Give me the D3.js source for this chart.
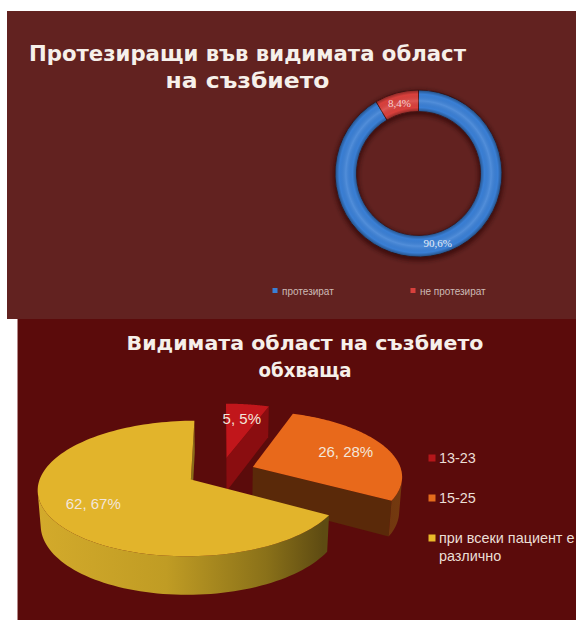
<!DOCTYPE html>
<html><head><meta charset="utf-8">
<script src="https://cdn.jsdelivr.net/npm/d3@7"></script>
<style>html,body{margin:0;padding:0;background:#fff;} svg{display:block}</style>
</head><body>
<svg id="c" width="576" height="620"></svg>
<script>
// ---- data: top chart (doughnut) ----
const donutTitle = ["Протезиращи във видимата област", "на съзбието"];
const donutCategories = ["протезират", "не протезират"];
const donutValues = [90.6, 8.4];
const donutLabels = ["90,6%", "8,4%"];
const donutColors = ["#3a7fd5", "#d9403c"];

// ---- data: bottom chart (3D pie) ----
const pieTitle = ["Видимата област на съзбието", "обхваща"];
const pieCategories = ["13-23", "15-25", "при всеки пациент е различно"];
const pieValues = [5, 26, 62];
const pieLabels = ["5, 5%", "26, 28%", "62, 67%"];
const pieTopColors = ["#c1161b", "#e8691b", "#e2b42b"];
const pieFaceColors = ["#8a0d10", "#5a2909", "#8a6d1a"];
const pieSideColors = ["#7a0b0d", "url(#orSide)", "url(#yeSide)"];
const pieLegendColors = ["#b5161a", "#e46c1c", "#e9ba2a"];

const svg = d3.select("#c");
const defs = svg.append("defs");

// backgrounds
svg.append("rect").attr("width",576).attr("height",620).attr("fill","#ffffff");
svg.append("rect").attr("x",7).attr("y",11).attr("width",569).attr("height",308).attr("fill","#622220");
svg.append("rect").attr("x",17).attr("y",319).attr("width",559).attr("height",301).attr("fill","#5b0b0b");
svg.append("line").attr("x1",17.5).attr("x2",17.5).attr("y1",319).attr("y2",620).attr("stroke","#b48888").attr("stroke-width",1);

const titleFont = "'DejaVu Sans', sans-serif";

// ================= TOP: doughnut =================
const t1 = svg.append("g").attr("font-family",titleFont).attr("font-weight","bold")
  .attr("fill","#f6f0ea").attr("text-anchor","middle").attr("font-size",22);
const t1w = [437, 164];
donutTitle.forEach((s,i)=>{
  t1.append("text").attr("x",247.5).attr("y",[61,88][i]).attr("textLength",t1w[i])
    .attr("lengthAdjust","spacingAndGlyphs").text(s);
});

const dc = {x:418.5, y:173.5}, rOut = 83.5, rIn = 62;
const dg = svg.append("g").attr("transform",`translate(${dc.x},${dc.y})`);
const blur = defs.append("filter").attr("id","blur").attr("x","-20%").attr("y","-20%").attr("width","140%").attr("height","140%");
blur.append("feGaussianBlur").attr("stdDeviation",2);
const bevel = defs.append("radialGradient").attr("id","bevel").attr("gradientUnits","userSpaceOnUse")
  .attr("cx",0).attr("cy",0).attr("r",rOut);
[[rIn/rOut,"#000",0.35],[0.79,"#000",0.0],[0.87,"#fff",0.12],[0.95,"#000",0.0],[1,"#000",0.4]]
  .forEach(s=>bevel.append("stop").attr("offset",s[0]).attr("stop-color",s[1]).attr("stop-opacity",s[2]));

dg.append("circle").attr("r",(rOut+rIn)/2).attr("cy",2).attr("fill","none")
  .attr("stroke","#2a0606").attr("stroke-opacity",0.6).attr("stroke-width",rOut-rIn+4).attr("filter","url(#blur)");

const donutPie = d3.pie().sort(null).value(d=>d);
const dArcs = donutPie(donutValues);
const dArc = d3.arc().innerRadius(rIn).outerRadius(rOut);
dg.selectAll("path.slice").data(dArcs).join("path").attr("class","slice")
  .attr("d",dArc).attr("fill",(d,i)=>donutColors[i]).attr("stroke","#4a1414").attr("stroke-width",0.8);
dg.append("path").attr("d",d3.arc().innerRadius(rIn).outerRadius(rOut)({startAngle:0,endAngle:2*Math.PI}))
  .attr("fill","url(#bevel)");
dg.selectAll("text.lbl").data(dArcs).join("text").attr("class","lbl")
  .attr("x",d=>dArc.centroid(d)[0]).attr("y",d=>dArc.centroid(d)[1]+3.5)
  .attr("text-anchor","middle").attr("font-family","'Liberation Serif', serif").attr("font-size",11)
  .attr("fill",(d,i)=>i===0?"#e4ecf8":"#f6d2d0").text((d,i)=>donutLabels[i]);

// legend top
const lg1 = svg.append("g").attr("font-family","'Liberation Sans', Arial, sans-serif").attr("font-size",10).attr("fill","#cdbab6");
const lgX = d3.scalePoint().domain(donutCategories).range([275,413]);
donutCategories.forEach((c,i)=>{
  lg1.append("rect").attr("x",lgX(c)-2.5).attr("y",288).attr("width",5).attr("height",5).attr("fill",donutColors[i]);
  lg1.append("text").attr("x",lgX(c)+7).attr("y",294.5).text(c);
});

// ================= BOTTOM: 3D pie =================
const t2 = svg.append("g").attr("font-family",titleFont).attr("font-weight","bold")
  .attr("fill","#f6f0ea").attr("text-anchor","middle").attr("font-size",20);
const t2w = [357, 93];
pieTitle.forEach((s,i)=>{
  t2.append("text").attr("x",305).attr("y",[350,377][i]).attr("textLength",t2w[i])
    .attr("lengthAdjust","spacingAndGlyphs").text(s);
});

// gradients for side faces
const ye = defs.append("linearGradient").attr("id","yeSide").attr("gradientUnits","userSpaceOnUse")
  .attr("x1",38).attr("x2",323).attr("y1",0).attr("y2",0);
[[0,"#d3aa2b"],[0.45,"#c09c24"],[0.8,"#8a7119"],[1,"#5e4b12"]].forEach(s=>ye.append("stop").attr("offset",s[0]).attr("stop-color",s[1]));
const os = defs.append("linearGradient").attr("id","orSide").attr("gradientUnits","userSpaceOnUse")
  .attr("x1",250).attr("x2",400).attr("y1",0).attr("y2",0);
[[0,"#4e2107"],[1,"#74390f"]].forEach(s=>os.append("stop").attr("offset",s[0]).attr("stop-color",s[1]));

// projection
const D = 6.9, alpha = 25.7*Math.PI/180, H = 0.26, EXPL = 0.23;
const ca = Math.cos(alpha), sa = Math.sin(alpha);
const SX = 221, SY = 472, SC = 149;
const px = d3.scaleLinear().domain([-1,1]).range([SX-SC,SX+SC]);
const py = d3.scaleLinear().domain([-1,1]).range([SY+SC,SY-SC]);
function proj(p){ const [x,y,z]=p; const v=y*ca+z*sa, dep=D+z*ca-y*sa, k=D/dep; return [px(x*k), py(v*k)]; }
const cam = [0, D*sa, -D*ca];
const line = d3.line();

const pieArcs = d3.pie().sort(null).value(d=>d)(pieValues).map((d,i)=>{
  const mid=(d.startAngle+d.endAngle)/2;
  return {i, a0:d.startAngle, a1:d.endAngle, mid, ox:EXPL*Math.sin(mid), oz:EXPL*Math.cos(mid)};
});
const pg = svg.append("g");
function visible(n,p){ return n[0]*(cam[0]-p[0])+n[1]*(cam[1]-p[1])+n[2]*(cam[2]-p[2])>0; }
function rim(s,t,y){ return [s.ox+Math.sin(t), y, s.oz+Math.cos(t)]; }

pieArcs.slice().sort((a,b)=>b.oz-a.oz).forEach(s=>{
  const apexT=[s.ox,0,s.oz], apexB=[s.ox,-H,s.oz];
  // radial faces
  [[s.a0,-1],[s.a1,1]].forEach(([t,sg])=>{
    const n=[sg*Math.cos(t),0,-sg*Math.sin(t)];
    const m=[s.ox+0.5*Math.sin(t),-H/2,s.oz+0.5*Math.cos(t)];
    if(visible(n,m)){
      const poly=[apexT,rim(s,t,0),rim(s,t,-H),apexB].map(proj);
      pg.append("path").attr("d",line(poly)+"Z").attr("fill",pieFaceColors[s.i]);
    }
  });
  // outer side
  const N=120, runs=[]; let cur=null;
  for(let k=0;k<=N;k++){
    const t=s.a0+(s.a1-s.a0)*k/N;
    const v=visible([Math.sin(t),0,Math.cos(t)], rim(s,t,-H/2));
    if(v){ if(!cur){cur=[];runs.push(cur);} cur.push(t);} else cur=null;
  }
  runs.forEach(r=>{
    if(r.length<2) return;
    const top=r.map(t=>proj(rim(s,t,0))), bot=r.slice().reverse().map(t=>proj(rim(s,t,-H)));
    pg.append("path").attr("d",line(top.concat(bot))+"Z").attr("fill",pieSideColors[s.i]);
  });
  // top face
  const pts=[proj(apexT)];
  for(let k=0;k<=N;k++){ const t=s.a0+(s.a1-s.a0)*k/N; pts.push(proj(rim(s,t,0))); }
  pg.append("path").attr("d",line(pts)+"Z").attr("fill",pieTopColors[s.i]);
});

// data labels
const LR = 0.7;
pieArcs.forEach(s=>{
  const p=proj([s.ox+LR*Math.sin(s.mid),0,s.oz+LR*Math.cos(s.mid)]);
  pg.append("text").attr("x",p[0]).attr("y",p[1]+5).attr("text-anchor","middle")
    .attr("font-family","'Liberation Sans', Arial, sans-serif").attr("font-size",15)
    .attr("fill","#f3e6da").text(pieLabels[s.i]);
});

// legend bottom
const lg2 = svg.append("g").attr("font-family","'Liberation Sans', Arial, sans-serif").attr("font-size",14.4).attr("fill","#ebdfd6");
const lgY = d3.scalePoint().domain(pieCategories).range([458,538]);
pieCategories.forEach((c,i)=>{
  lg2.append("rect").attr("x",428.5).attr("y",lgY(c)-3.5).attr("width",7).attr("height",7).attr("fill",pieLegendColors[i]);
  const txt = lg2.append("text").attr("x",439).attr("y",lgY(c)+5);
  const words=c.split(" "); let lineWords=[]; let tspan=txt.append("tspan").attr("x",439);
  words.forEach(w=>{
    lineWords.push(w); tspan.text(lineWords.join(" "));
    if(tspan.node().getComputedTextLength()>136 && lineWords.length>1){
      lineWords.pop(); tspan.text(lineWords.join(" "));
      lineWords=[w];
      tspan=txt.append("tspan").attr("x",439).attr("dy",18).text(w);
    }
  });
});
</script>
</body></html>
